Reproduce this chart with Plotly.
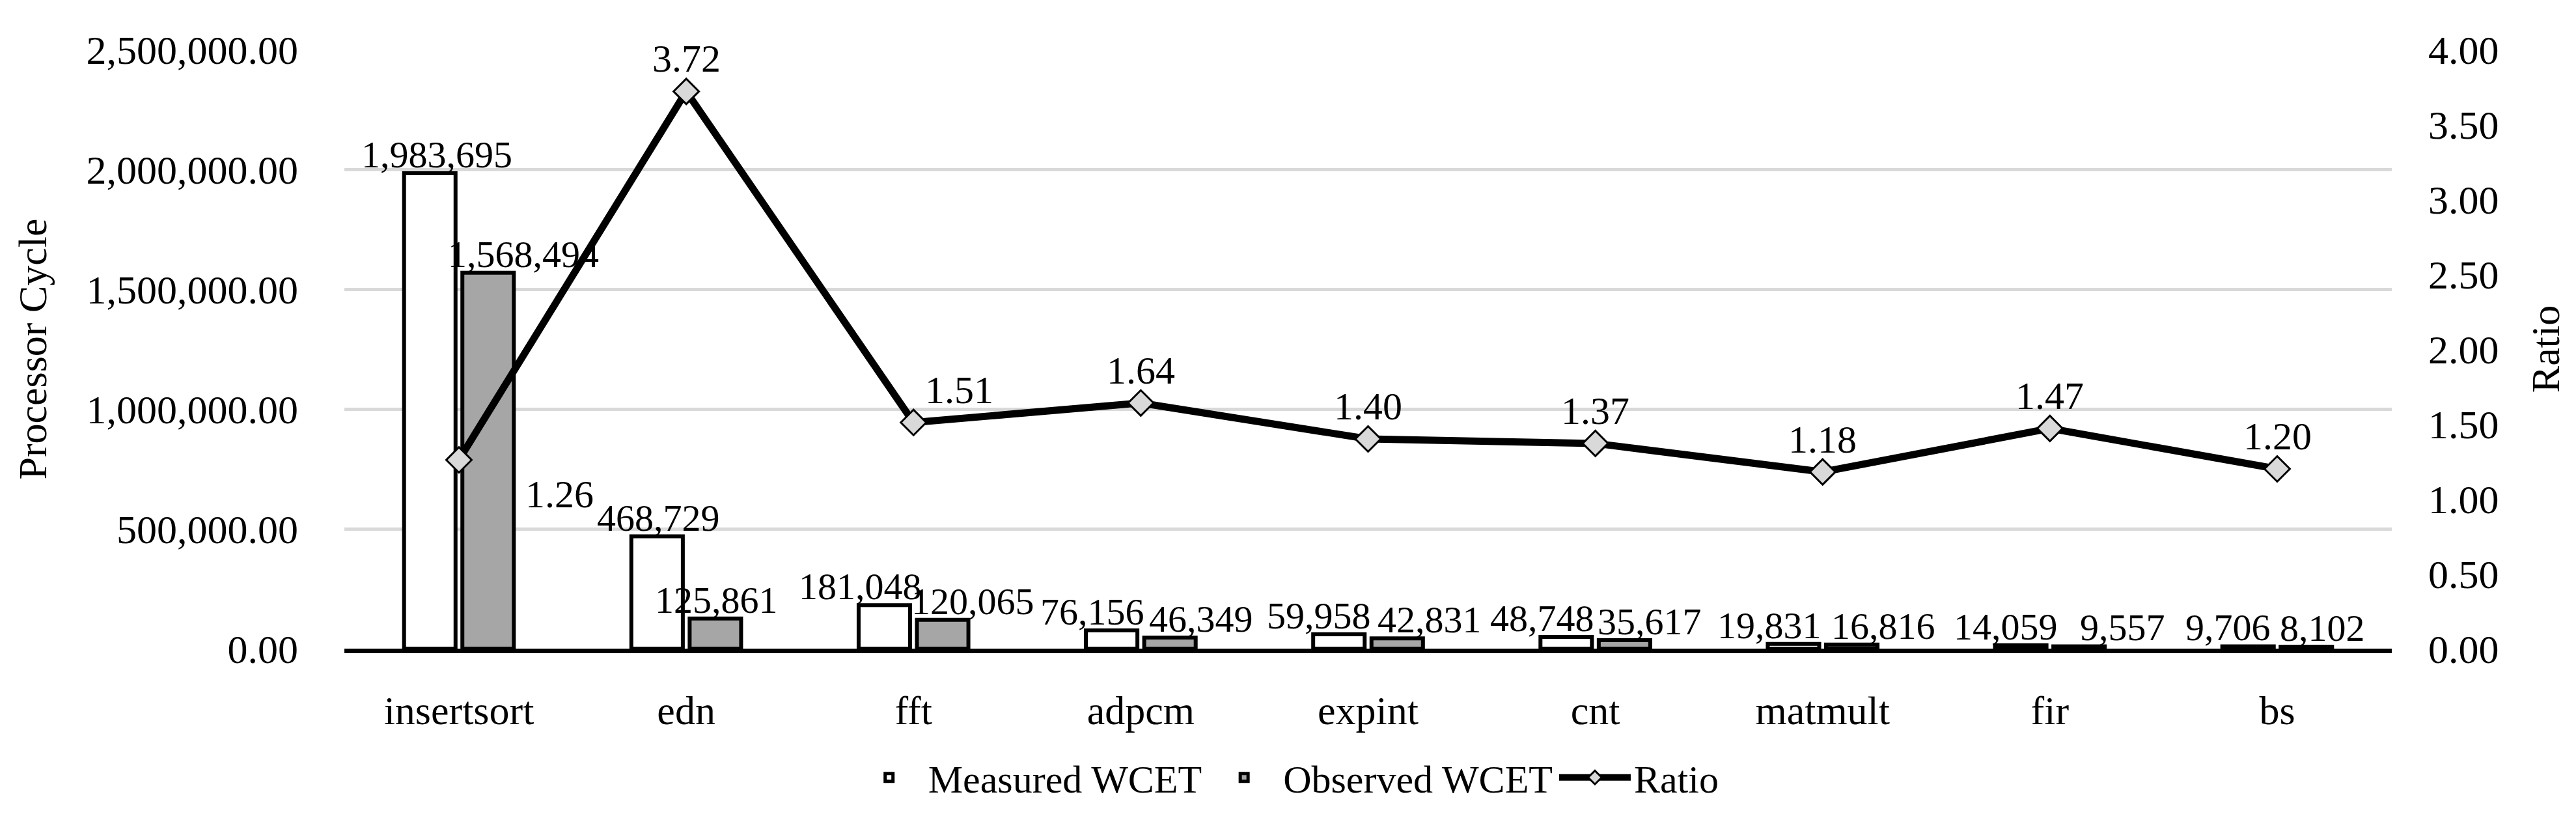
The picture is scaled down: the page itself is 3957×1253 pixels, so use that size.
import plotly.graph_objects as go

categories = ["insertsort", "edn", "fft", "adpcm", "expint", "cnt", "matmult", "fir", "bs"]
measured_wcet = [1983695, 468729, 181048, 76156, 59958, 48748, 19831, 14059, 9706]
observed_wcet = [1568494, 125861, 120065, 46349, 42831, 35617, 16816, 9557, 8102]
ratio = [1.26, 3.72, 1.51, 1.64, 1.40, 1.37, 1.18, 1.47, 1.20]

# label placement (style only): offsets in px
measured_label_shift = [-34, -43, -82, -74, -76, -82, -82, -68, -76]
observed_label_shift = [99, 46, 91, 93, 94, 83, 93, 112, 69]
ratio_label_dx = [100, 0, 70, 0, 0, 0, 0, 0, 0]
ratio_label_dy = [-53, 50, 50, 50, 50, 50, 50, 50, 50]
ratio_label_anchor = ["left"] + ["center"] * 8

FONT = "Liberation Serif"
LABEL_SIZE = 58

fig = go.Figure()
fig.add_trace(go.Bar(
    name="Measured WCET", x=categories, y=measured_wcet,
    marker=dict(color="white", line=dict(color="black", width=6)),
))
fig.add_trace(go.Bar(
    name="Observed WCET", x=categories, y=observed_wcet,
    marker=dict(color="#a6a6a6", line=dict(color="black", width=6)),
))
fig.add_trace(go.Scatter(
    name="Ratio", x=categories, y=ratio, yaxis="y2",
    mode="lines+markers",
    line=dict(color="black", width=11),
    marker=dict(symbol="diamond", size=30, color="#d9d9d9", line=dict(color="black", width=3)),
    cliponaxis=False,
))

annotations = []
for cat, v, dx in zip(categories, measured_wcet, measured_label_shift):
    annotations.append(dict(x=cat, y=v, xref="x", yref="y", text=f"{v:,}", showarrow=False,
                            xanchor="center", yanchor="bottom", xshift=dx, yshift=-6,
                            font=dict(family=FONT, size=LABEL_SIZE, color="black")))
for cat, v, dx in zip(categories, observed_wcet, observed_label_shift):
    annotations.append(dict(x=cat, y=v, xref="x", yref="y", text=f"{v:,}", showarrow=False,
                            xanchor="center", yanchor="bottom", xshift=dx, yshift=-6,
                            font=dict(family=FONT, size=LABEL_SIZE, color="black")))
for cat, r, dx, dy, anc in zip(categories, ratio, ratio_label_dx, ratio_label_dy, ratio_label_anchor):
    annotations.append(dict(x=cat, y=r, xref="x", yref="y2", text=f"{r:.2f}", showarrow=False,
                            xanchor=anc, yanchor="middle", xshift=dx, yshift=dy,
                            font=dict(family=FONT, size=60, color="black")))

fig.update_layout(
    width=3957, height=1253,
    margin=dict(l=521, r=291, t=68, b=265),
    paper_bgcolor="white", plot_bgcolor="white",
    font=dict(family=FONT, size=62, color="black"),
    barmode="group", bargap=0.487, bargroupgap=0.117,
    showlegend=True,
    annotations=annotations,
    legend=dict(orientation="h", x=0.46, xanchor="center", y=-0.215, yanchor="middle",
                font=dict(family=FONT, size=60, color="black"), itemwidth=110,
                bgcolor="rgba(0,0,0,0)"),
    xaxis=dict(showline=True, linecolor="black", linewidth=7, showgrid=False,
               ticks="", ticklabelstandoff=35, tickfont=dict(size=62)),
    yaxis=dict(range=[0, 2500000], dtick=500000, tickformat=",.2f",
               showgrid=True, gridcolor="#d9d9d9", gridwidth=5,
               zeroline=False, showline=False, ticks="", ticklabelstandoff=70,
               tickfont=dict(size=62),
               title=dict(text="Processor Cycle", font=dict(size=62), standoff=40)),
    yaxis2=dict(range=[0, 4], dtick=0.5, tickformat=".2f", overlaying="y", side="right",
                showgrid=False, zeroline=False, showline=False, ticks="", ticklabelstandoff=55,
                tickfont=dict(size=62),
                title=dict(text="Ratio", font=dict(size=62), standoff=50)),
)

fig.write_html("out.html")
